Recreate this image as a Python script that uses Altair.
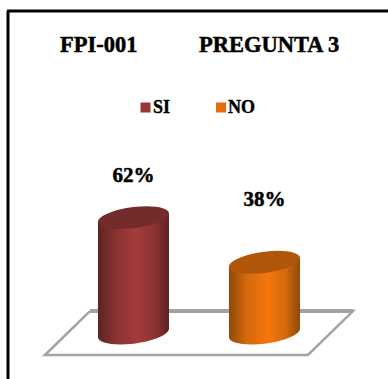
import altair as alt
import pandas as pd

# Survey result
categories = ["SI", "NO"]
values = [62, 38]
title_left = "FPI-001"
title_right = "PREGUNTA 3"

# Floor outline in axis units (bar slot, percent)
floor_x = [-0.332, 1.676, 1.332, -0.676, -0.332]
floor_y = [11.8, 11.8, -11.8, -11.8, 11.8]
back_edge_x = [-0.332, 1.676]
back_edge_y = [11.8, 11.8]

W, H = 388, 379
X_SCALE = alt.Scale(domain=[-1.019, 1.943], range=[0, W])
Y_SCALE = alt.Scale(domain=[-24.7, 179], range=[H, 0])
HALF_BAR = 0.271
TILT = 2.3
TITLE_FONT = "Liberation Serif"


def ellipse_path(tilt=0.12, half_h=0.30):
    """Tilted ellipse as four cubic segments, unit half-width."""
    k = 0.5523
    def p(c, s):
        return f"{c:.4f},{-tilt * c + half_h * s:.4f}"
    return (
        f"M{p(1, 0)}"
        f"C{p(1, k)} {p(k, 1)} {p(0, 1)}"
        f"C{p(-k, 1)} {p(-1, k)} {p(-1, 0)}"
        f"C{p(-1, -k)} {p(-k, -1)} {p(0, -1)}"
        f"C{p(k, -1)} {p(1, -k)} {p(1, 0)}Z"
    )


def side_gradient(dark, mid, bright, end):
    return alt.Gradient(
        gradient="linear", x1=0, x2=1, y1=0, y2=0,
        stops=[
            alt.GradientStop(color=dark, offset=0),
            alt.GradientStop(color=mid, offset=0.25),
            alt.GradientStop(color=bright, offset=0.55),
            alt.GradientStop(color=mid, offset=0.8),
            alt.GradientStop(color=end, offset=1),
        ],
    )


palette = {
    "SI": dict(side=side_gradient("#5c2323", "#8a3232", "#a33c3b", "#5f2222"), top="#742b2b", key="#953735"),
    "NO": dict(side=side_gradient("#8f4a08", "#d4690c", "#f5760d", "#8a4a08"), top="#b0560a", key="#e46c0a"),
}
label_shift = {"SI": -42, "NO": -62}
key_x = {"SI": 145.5, "NO": 221}
key_text_x = {"SI": 153, "NO": 228}

df = pd.DataFrame({
    "category": categories,
    "value": values,
    "slot": range(len(categories)),
})
df["zero"] = 0
df["label"] = df["value"].astype(str) + "%"

# The side of each cylinder follows the tilt of its end caps
side_rows = []
for slot, (cat, val) in enumerate(zip(categories, values)):
    for sign in (-1, 1):
        side_rows.append({
            "category": cat,
            "x": slot + sign * HALF_BAR,
            "upper": val + sign * TILT,
            "lower": sign * TILT,
        })
side = pd.DataFrame(side_rows)

floor = pd.DataFrame({"x": floor_x, "y": floor_y, "order": range(len(floor_x))})
back_edge = pd.DataFrame({"x": back_edge_x, "y": back_edge_y})

x_enc = alt.X("slot:Q", scale=X_SCALE, axis=None)
y_enc = alt.Y("value:Q", scale=Y_SCALE, axis=None)

layers = []

# Frame
layers.append(alt.Chart(df.head(1)).mark_rule(color="#000000", strokeWidth=3).encode(
    x=alt.value(8), y=alt.value(11), y2=alt.value(H)))
layers.append(alt.Chart(df.head(1)).mark_rule(color="#000000", strokeWidth=3).encode(
    x=alt.value(7), x2=alt.value(W), y=alt.value(11)))

# Floor
layers.append(alt.Chart(floor).mark_line(color="#a3a3a3", strokeWidth=2.5, interpolate="linear").encode(
    x=alt.X("x:Q", scale=X_SCALE, axis=None),
    y=alt.Y("y:Q", scale=Y_SCALE, axis=None),
    order="order:Q",
))
layers.append(alt.Chart(back_edge).mark_line(color="#a3a3a3", strokeWidth=4).encode(
    x=alt.X("x:Q", scale=X_SCALE, axis=None),
    y=alt.Y("y:Q", scale=Y_SCALE, axis=None),
))

for cat in categories:
    d = df[df["category"] == cat]
    style = palette[cat]
    # Cylinder base
    layers.append(alt.Chart(d).mark_point(
        shape=ellipse_path(), size=71.0 ** 2, filled=True, opacity=1, strokeWidth=0, fill=style["side"],
    ).encode(x=x_enc, y=alt.Y("zero:Q", scale=Y_SCALE, axis=None)))
    # Cylinder side
    layers.append(alt.Chart(side[side["category"] == cat]).mark_area(fill=style["side"], strokeWidth=0).encode(
        x=alt.X("x:Q", scale=X_SCALE, axis=None),
        y=alt.Y("upper:Q", scale=Y_SCALE, axis=None),
        y2="lower:Q",
    ))
    # Cylinder top
    layers.append(alt.Chart(d).mark_point(
        shape=ellipse_path(), size=71.0 ** 2, filled=True, opacity=1, strokeWidth=0, fill=style["top"],
    ).encode(x=x_enc, y=y_enc))
    # Percentage label
    layers.append(alt.Chart(d).mark_text(
        font=TITLE_FONT, fontSize=21, fontWeight="bold", color="#000000", dy=label_shift[cat], align="center",
        stroke="#000000", strokeWidth=0.5,
    ).encode(x=x_enc, y=y_enc, text="label:N"))
    # Legend key and name
    layers.append(alt.Chart(d).mark_square(size=100, color=style["key"], opacity=1, strokeWidth=0).encode(
        x=alt.value(key_x[cat]), y=alt.value(107.5)))
    layers.append(alt.Chart(d).mark_text(
        font=TITLE_FONT, fontSize=18, fontWeight="bold", color="#000000", align="left",
        stroke="#000000", strokeWidth=0.4,
    ).encode(x=alt.value(key_text_x[cat]), y=alt.value(108), text="category:N"))

# Headings
for text, left in ((title_left, 60), (title_right, 199)):
    layers.append(alt.Chart(df.head(1)).mark_text(
        text=text, font=TITLE_FONT, fontSize=22.5, fontWeight="bold", color="#000000", align="left",
        stroke="#000000", strokeWidth=0.5,
    ).encode(x=alt.value(left), y=alt.value(45)))

chart = alt.layer(*layers).properties(
    width=W, height=H, padding=0, autosize=alt.AutoSizeParams(type="none"), background="#ffffff",
).configure_view(stroke=None)

chart.save("out.html", embed_options={"renderer": "svg", "actions": False})
